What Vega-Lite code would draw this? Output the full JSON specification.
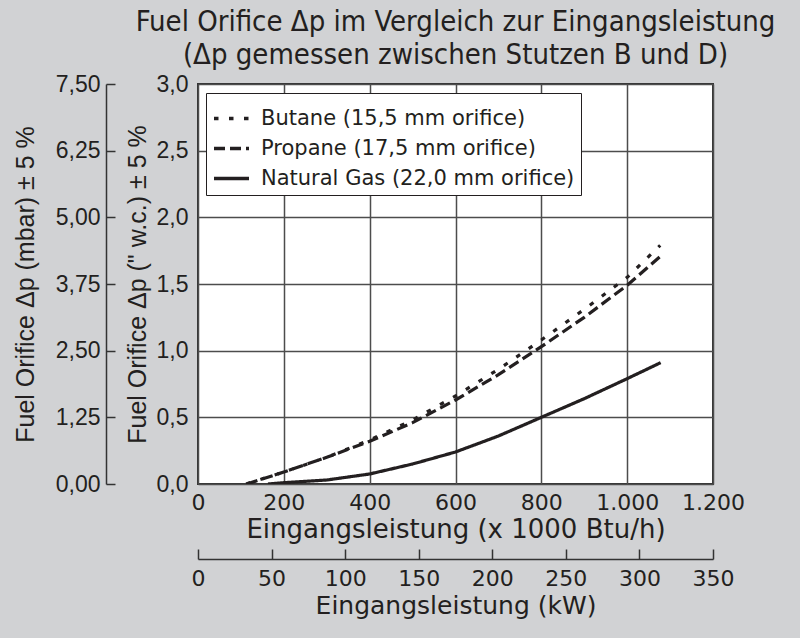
{
  "$schema": "https://vega.github.io/schema/vega-lite/v6.json",
  "width": 515,
  "height": 400,
  "autosize": {"type": "none"},
  "padding": {"left": 198, "top": 84, "right": 87, "bottom": 154},
  "background": "#d1d2d4",
  "title": {
    "text": ["Fuel Orifice Δp im Vergleich zur Eingangsleistung", "(Δp gemessen zwischen Stutzen B und D)"],
    "font": "Liberation Sans Narrow, DejaVu Sans Condensed, Roboto",
    "fontSize": 29,
    "fontWeight": "normal",
    "color": "#231f20",
    "frame": "group",
    "anchor": "middle",
    "lineHeight": 33,
    "offset": 3
  },
  "config": {
    "locale": {"number": {"decimal": ",", "thousands": ".", "grouping": [3], "currency": ["", " €"]}},
    "view": {"fill": "white", "stroke": "#333333", "strokeWidth": 2},
    "axis": {
      "labelColor": "#231f20",
      "titleColor": "#231f20",
      "gridColor": "#4d4d4d",
      "gridWidth": 1.5,
      "gridOpacity": 1,
      "titleFontWeight": "normal",
      "domainColor": "#333333",
      "domainWidth": 1.5,
      "tickColor": "#333333",
      "tickWidth": 1.5,
      "labelOverlap": false,
      "labelFlush": false,
      "labelBound": false
    }
  },
  "datasets": {
    "curves": [
      {"fuel": "Butane (15,5 mm orifice)", "kbtu": 112, "wc": 0},
      {"fuel": "Butane (15,5 mm orifice)", "kbtu": 200, "wc": 0.09},
      {"fuel": "Butane (15,5 mm orifice)", "kbtu": 300, "wc": 0.2},
      {"fuel": "Butane (15,5 mm orifice)", "kbtu": 400, "wc": 0.33},
      {"fuel": "Butane (15,5 mm orifice)", "kbtu": 500, "wc": 0.48},
      {"fuel": "Butane (15,5 mm orifice)", "kbtu": 600, "wc": 0.66},
      {"fuel": "Butane (15,5 mm orifice)", "kbtu": 700, "wc": 0.86},
      {"fuel": "Butane (15,5 mm orifice)", "kbtu": 800, "wc": 1.08},
      {"fuel": "Butane (15,5 mm orifice)", "kbtu": 900, "wc": 1.31},
      {"fuel": "Butane (15,5 mm orifice)", "kbtu": 1000, "wc": 1.55},
      {"fuel": "Butane (15,5 mm orifice)", "kbtu": 1077, "wc": 1.79},
      {"fuel": "Propane (17,5 mm orifice)", "kbtu": 114, "wc": 0},
      {"fuel": "Propane (17,5 mm orifice)", "kbtu": 200, "wc": 0.09},
      {"fuel": "Propane (17,5 mm orifice)", "kbtu": 300, "wc": 0.2},
      {"fuel": "Propane (17,5 mm orifice)", "kbtu": 400, "wc": 0.32},
      {"fuel": "Propane (17,5 mm orifice)", "kbtu": 500, "wc": 0.46},
      {"fuel": "Propane (17,5 mm orifice)", "kbtu": 600, "wc": 0.63},
      {"fuel": "Propane (17,5 mm orifice)", "kbtu": 700, "wc": 0.82},
      {"fuel": "Propane (17,5 mm orifice)", "kbtu": 800, "wc": 1.03},
      {"fuel": "Propane (17,5 mm orifice)", "kbtu": 900, "wc": 1.25},
      {"fuel": "Propane (17,5 mm orifice)", "kbtu": 1000, "wc": 1.49},
      {"fuel": "Propane (17,5 mm orifice)", "kbtu": 1078, "wc": 1.71},
      {"fuel": "Natural Gas (22,0 mm orifice)", "kbtu": 163, "wc": 0},
      {"fuel": "Natural Gas (22,0 mm orifice)", "kbtu": 200, "wc": 0.01},
      {"fuel": "Natural Gas (22,0 mm orifice)", "kbtu": 300, "wc": 0.03},
      {"fuel": "Natural Gas (22,0 mm orifice)", "kbtu": 400, "wc": 0.075},
      {"fuel": "Natural Gas (22,0 mm orifice)", "kbtu": 500, "wc": 0.15},
      {"fuel": "Natural Gas (22,0 mm orifice)", "kbtu": 600, "wc": 0.24},
      {"fuel": "Natural Gas (22,0 mm orifice)", "kbtu": 700, "wc": 0.36},
      {"fuel": "Natural Gas (22,0 mm orifice)", "kbtu": 800, "wc": 0.5},
      {"fuel": "Natural Gas (22,0 mm orifice)", "kbtu": 900, "wc": 0.64},
      {"fuel": "Natural Gas (22,0 mm orifice)", "kbtu": 1000, "wc": 0.79},
      {"fuel": "Natural Gas (22,0 mm orifice)", "kbtu": 1078, "wc": 0.91}
    ],
    "kw": [{"kW": 0}, {"kW": 350}],
    "mbar": [{"mbar": 0}, {"mbar": 7.5}]
  },
  "layer": [
    {
      "data": {"name": "curves"},
      "mark": {"type": "line", "strokeWidth": 3.2, "color": "#231f20", "clip": true},
      "encoding": {
        "x": {
          "field": "kbtu", "type": "quantitative",
          "scale": {"domain": [0, 1200], "nice": false},
          "axis": {
            "orient": "bottom",
            "values": [0, 200, 400, 600, 800, 1000, 1200],
            "format": ",d",
            "title": "Eingangsleistung (x 1000 Btu/h)",
            "labelFont": "DejaVu Sans", "labelFontSize": 22,
            "titleFont": "DejaVu Sans", "titleFontSize": 26,
            "ticks": false, "tickSize": 0, "domain": false,
            "labelPadding": 8, "titlePadding": 3,
            "grid": true
          }
        },
        "y": {
          "field": "wc", "type": "quantitative",
          "scale": {"domain": [0, 3], "nice": false},
          "axis": {
            "orient": "left",
            "values": [0, 0.5, 1, 1.5, 2, 2.5, 3],
            "format": ".1f",
            "title": "Fuel Orifice Δp (\" w.c.) ± 5 %",
            "labelFont": "Liberation Sans", "labelFontSize": 23,
            "titleFont": "Liberation Sans", "titleFontSize": 25,
            "ticks": false, "tickSize": 0, "domain": false,
            "labelPadding": 10,
            "titleX": -61, "titleBaseline": "middle",
            "grid": true
          }
        },
        "strokeDash": {
          "field": "fuel", "type": "nominal",
          "scale": {
            "domain": ["Butane (15,5 mm orifice)", "Propane (17,5 mm orifice)", "Natural Gas (22,0 mm orifice)"],
            "range": [[4.5, 10.5], [11, 5], [1, 0]]
          },
          "legend": {
            "orient": "none", "legendX": 8, "legendY": 9,
            "title": null,
            "symbolType": "stroke", "symbolSize": 1225, "symbolStrokeWidth": 3.5,
            "symbolStrokeColor": "#231f20",
            "labelFont": "DejaVu Sans", "labelFontSize": 21, "labelColor": "#231f20",
            "labelLimit": 500, "labelOffset": 10,
            "fillColor": "white", "strokeColor": "#231f20",
            "padding": 6, "rowPadding": -14, "cornerRadius": 0
          }
        }
      }
    },
    {
      "data": {"name": "kw"},
      "mark": {"type": "point", "opacity": 0},
      "encoding": {
        "x": {
          "field": "kW", "type": "quantitative",
          "scale": {"domain": [0, 350], "nice": false},
          "axis": {
            "orient": "bottom", "offset": 75,
            "values": [0, 50, 100, 150, 200, 250, 300, 350],
            "format": "d",
            "title": "Eingangsleistung (kW)",
            "labelFont": "DejaVu Sans", "labelFontSize": 22,
            "titleFont": "DejaVu Sans", "titleFontSize": 25,
            "tickSize": -10, "labelPadding": 19, "titlePadding": 4,
            "grid": false
          }
        }
      }
    },
    {
      "data": {"name": "mbar"},
      "mark": {"type": "point", "opacity": 0},
      "encoding": {
        "y": {
          "field": "mbar", "type": "quantitative",
          "scale": {"domain": [0, 7.5], "nice": false},
          "axis": {
            "orient": "left", "offset": 92,
            "values": [0, 1.25, 2.5, 3.75, 5, 6.25, 7.5],
            "format": ".2f",
            "title": "Fuel Orifice Δp (mbar) ± 5 %",
            "labelFont": "Liberation Sans", "labelFontSize": 23,
            "titleFont": "Liberation Sans", "titleFontSize": 25,
            "tickSize": -9, "labelPadding": 15,
            "titleX": -81, "titleBaseline": "middle",
            "grid": false
          }
        }
      }
    }
  ],
  "resolve": {
    "scale": {"x": "independent", "y": "independent", "strokeDash": "independent"},
    "axis": {"x": "independent", "y": "independent"}
  }
}
